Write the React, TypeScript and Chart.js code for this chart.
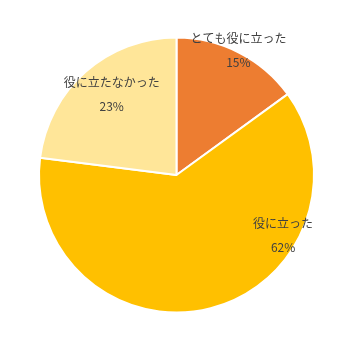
import React, { useEffect, useRef } from "react";
import { Chart, registerables } from "chart.js";

Chart.register(...registerables);

const categories = ["とても役に立った", "役に立った", "役に立たなかった"];
const values = [15, 62, 23];
const percentLabels = ["15%", "62%", "23%"];
const colors = ["#ED7D31", "#FFC000", "#FFE699"];

// label placement: fraction along slice angle, fraction of radius
const labelPlacement = [
  { t: 0.49, r: 1.01 },
  { t: 0.293, r: 0.89 },
  { t: 0.53, r: 0.75 },
];

const labelPlugin = {
  id: "sliceLabels",
  afterDatasetsDraw(chart: any) {
    const ctx = chart.ctx;
    const meta = chart.getDatasetMeta(0);
    ctx.save();
    ctx.font = '12px "Noto Sans CJK JP", "Noto Sans", sans-serif';
    ctx.fillStyle = "#404040";
    ctx.textAlign = "center";
    ctx.textBaseline = "middle";
    meta.data.forEach((arc: any, i: number) => {
      const p = labelPlacement[i];
      const a = arc.startAngle + (arc.endAngle - arc.startAngle) * p.t;
      const rr = arc.outerRadius * p.r;
      const x = arc.x + Math.cos(a) * rr;
      const y = arc.y + Math.sin(a) * rr;
      ctx.fillText(categories[i], x, y - 12);
      ctx.fillText(percentLabels[i], x, y + 12);
    });
    ctx.restore();
  },
};

export default function App() {
  const ref = useRef<HTMLCanvasElement>(null);
  useEffect(() => {
    document.body.style.margin = "0";
    const chart = new Chart(ref.current!, {
      type: "pie",
      data: {
        labels: categories,
        datasets: [
          {
            data: values,
            backgroundColor: colors,
            borderColor: "#FFFFFF",
            borderWidth: 2,
          },
        ],
      },
      options: {
        responsive: false,
        animation: false,
        layout: { padding: { top: 36, bottom: 37, left: 38, right: 38 } },
        plugins: {
          legend: { display: false },
          tooltip: { enabled: false },
        },
      },
      plugins: [labelPlugin],
    });
    return () => chart.destroy();
  }, []);
  return (
    <div style={{ width: 353, height: 351, background: "#fff" }}>
      <canvas ref={ref} width={353} height={351} />
    </div>
  );
}
